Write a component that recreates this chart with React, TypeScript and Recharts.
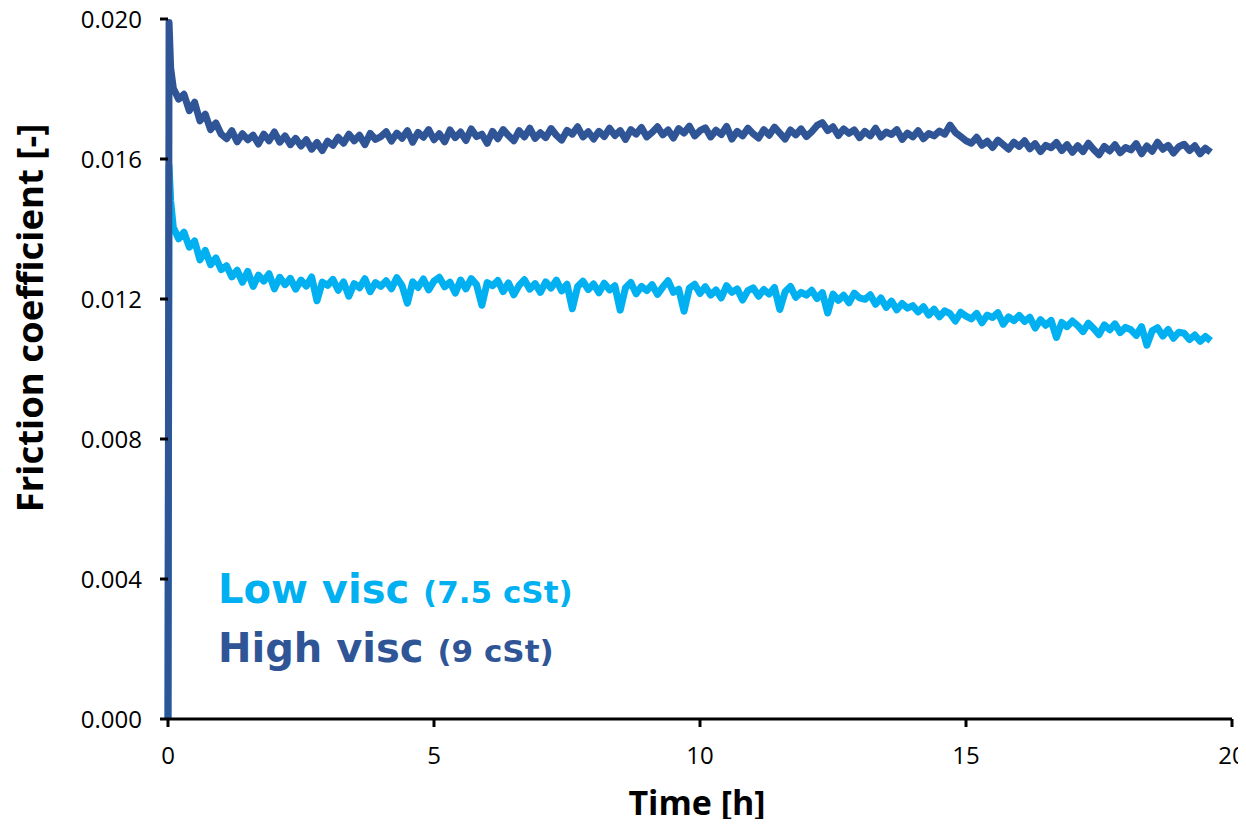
import { Label, Line, LineChart, XAxis, YAxis } from "recharts";

// first samples: start from zero, jump up, then the run-in drop
const leadTimes = [0, 0.02, 0.05];
const lowViscLead = [0, 0.0158, 0.0148];
const highViscLead = [0, 0.0199, 0.0186];

const sampleTimes = [
  0.1, 0.2, 0.3, 0.4, 0.5, 0.6, 0.7, 0.8, 0.9, 1,
  1.1, 1.2, 1.3, 1.4, 1.5, 1.6, 1.7, 1.8, 1.9, 2,
  2.1, 2.2, 2.3, 2.4, 2.5, 2.6, 2.7, 2.8, 2.9, 3,
  3.1, 3.2, 3.3, 3.4, 3.5, 3.6, 3.7, 3.8, 3.9, 4,
  4.1, 4.2, 4.3, 4.4, 4.5, 4.6, 4.7, 4.8, 4.9, 5,
  5.1, 5.2, 5.3, 5.4, 5.5, 5.6, 5.7, 5.8, 5.9, 6,
  6.1, 6.2, 6.3, 6.4, 6.5, 6.6, 6.7, 6.8, 6.9, 7,
  7.1, 7.2, 7.3, 7.4, 7.5, 7.6, 7.7, 7.8, 7.9, 8,
  8.1, 8.2, 8.3, 8.4, 8.5, 8.6, 8.7, 8.8, 8.9, 9,
  9.1, 9.2, 9.3, 9.4, 9.5, 9.6, 9.7, 9.8, 9.9, 10,
  10.1, 10.2, 10.3, 10.4, 10.5, 10.6, 10.7, 10.8, 10.9, 11,
  11.1, 11.2, 11.3, 11.4, 11.5, 11.6, 11.7, 11.8, 11.9, 12,
  12.1, 12.2, 12.3, 12.4, 12.5, 12.6, 12.7, 12.8, 12.9, 13,
  13.1, 13.2, 13.3, 13.4, 13.5, 13.6, 13.7, 13.8, 13.9, 14,
  14.1, 14.2, 14.3, 14.4, 14.5, 14.6, 14.7, 14.8, 14.9, 15,
  15.1, 15.2, 15.3, 15.4, 15.5, 15.6, 15.7, 15.8, 15.9, 16,
  16.1, 16.2, 16.3, 16.4, 16.5, 16.6, 16.7, 16.8, 16.9, 17,
  17.1, 17.2, 17.3, 17.4, 17.5, 17.6, 17.7, 17.8, 17.9, 18,
  18.1, 18.2, 18.3, 18.4, 18.5, 18.6, 18.7, 18.8, 18.9, 19,
  19.1, 19.2, 19.3, 19.4, 19.5, 19.6,
];

const lowVisc = [
  0.01405, 0.01372, 0.01391, 0.01348, 0.01366, 0.01312, 0.01339, 0.01298, 0.01317, 0.01284,
  0.01295, 0.01263, 0.01282, 0.01248, 0.01279, 0.01236, 0.01268, 0.01251, 0.01272, 0.01229,
  0.01262, 0.01241, 0.01259, 0.01228, 0.01254, 0.01237, 0.01263, 0.01195, 0.01248, 0.01239,
  0.01256, 0.01225, 0.01249, 0.01208, 0.01244, 0.01232, 0.01258, 0.01221, 0.01247, 0.01236,
  0.01252, 0.01229, 0.01261, 0.01238, 0.01188, 0.01249, 0.01233, 0.01257, 0.01226, 0.01251,
  0.01262, 0.01235, 0.01248, 0.01217, 0.01254, 0.01229, 0.01258, 0.01241, 0.01182, 0.01247,
  0.01238, 0.01253, 0.01221, 0.01246, 0.01212, 0.01239, 0.01255, 0.01228, 0.01244, 0.01219,
  0.01249, 0.01231, 0.01254, 0.01223, 0.01242, 0.01172, 0.01236, 0.01251, 0.01227, 0.01243,
  0.01218, 0.01245, 0.01226, 0.01238, 0.01168, 0.01232, 0.01247, 0.01215, 0.01236, 0.01224,
  0.01241, 0.01213, 0.01234, 0.01252, 0.01219, 0.01228, 0.01165, 0.01231, 0.01242, 0.01216,
  0.01235, 0.01211, 0.01226, 0.01203, 0.01238, 0.01219, 0.01229, 0.01197, 0.01224, 0.01232,
  0.01208, 0.01227, 0.01214, 0.01233, 0.0117, 0.01221, 0.01236, 0.01205, 0.01219, 0.01211,
  0.01225, 0.01201, 0.01218, 0.0116, 0.01214, 0.01196, 0.01211, 0.01189, 0.01217, 0.01203,
  0.01199, 0.01212, 0.01185, 0.01203, 0.01176, 0.01194, 0.01169, 0.01187, 0.01174, 0.01181,
  0.01163, 0.01178, 0.01154, 0.01171, 0.01149, 0.01166, 0.01158, 0.01137, 0.01162, 0.01151,
  0.01143, 0.01159, 0.01132, 0.01154, 0.01147, 0.01161, 0.01128, 0.01149, 0.01138, 0.01153,
  0.01136, 0.01148, 0.01117, 0.01141, 0.01125, 0.01139, 0.0109, 0.01133, 0.01121, 0.01137,
  0.01124, 0.01107, 0.01131, 0.01116, 0.01098, 0.01126, 0.01112, 0.01129, 0.01104, 0.01119,
  0.01112, 0.01096, 0.01121, 0.01068, 0.01109, 0.01118, 0.01094, 0.01113, 0.01088, 0.01105,
  0.01102, 0.01084, 0.01097, 0.01079, 0.01093, 0.01081,
];

const highVisc = [
  0.01802, 0.01771, 0.01785, 0.01738, 0.01762, 0.01709, 0.01728, 0.01684, 0.01703, 0.01671,
  0.01658, 0.01681, 0.01649, 0.01672, 0.01655, 0.01668, 0.01643, 0.01671, 0.01652, 0.01677,
  0.01648, 0.01666, 0.01641, 0.01659, 0.01637, 0.01655, 0.01628, 0.01647, 0.01624, 0.01651,
  0.01639, 0.01662, 0.01645, 0.01671, 0.01652, 0.01668, 0.01641, 0.01673, 0.01656, 0.01664,
  0.01678, 0.01651, 0.01674, 0.01659, 0.01681, 0.01648, 0.01676, 0.01662, 0.01684, 0.01655,
  0.01672, 0.01649, 0.01683, 0.01661, 0.01677, 0.01653, 0.01686, 0.01664, 0.01671, 0.01645,
  0.01679, 0.01658, 0.01684, 0.01667, 0.01652, 0.01681, 0.01663, 0.01688, 0.01659, 0.01675,
  0.01661, 0.01687, 0.01668, 0.01654, 0.01682, 0.01671, 0.01692, 0.01663, 0.01678, 0.01657,
  0.01679, 0.01664, 0.01688, 0.01667, 0.01681, 0.01656, 0.01684, 0.01671, 0.0169, 0.01663,
  0.01676, 0.01692, 0.01669, 0.01683, 0.0166, 0.01687, 0.01674, 0.01694, 0.01666, 0.01681,
  0.01689, 0.01663, 0.01682, 0.0167, 0.01693, 0.01657, 0.01679, 0.01666, 0.01688, 0.01672,
  0.0166, 0.01684, 0.01668, 0.01691, 0.01674, 0.01657, 0.01683, 0.01669, 0.01686, 0.01664,
  0.01678, 0.01696, 0.01704, 0.01681, 0.01692, 0.01667, 0.01686, 0.01673, 0.01683, 0.01661,
  0.01679, 0.01666, 0.01688, 0.01663, 0.01677, 0.0167, 0.01684, 0.01656, 0.01674, 0.01663,
  0.01681, 0.01658, 0.01673, 0.01666, 0.0168, 0.01671, 0.01697, 0.01676, 0.01664, 0.01652,
  0.01645, 0.01662, 0.01639, 0.01651, 0.01633, 0.01654, 0.01641, 0.01628, 0.01648, 0.01636,
  0.01652, 0.01629, 0.01644, 0.01621, 0.01639, 0.01632, 0.01647, 0.01624, 0.01641, 0.01619,
  0.01638, 0.01621, 0.01645, 0.01627, 0.01612, 0.01636, 0.01623, 0.01641, 0.01618, 0.01633,
  0.01626, 0.01644, 0.01615, 0.01637, 0.01622, 0.01648, 0.01628, 0.01639, 0.01617, 0.01635,
  0.01642, 0.01624, 0.01638, 0.01615, 0.01631, 0.01619,
];

const xTicks = [0, 5, 10, 15, 20];
const yTicks = [0, 0.004, 0.008, 0.012, 0.016, 0.02];

const times = [...leadTimes, ...sampleTimes];
const lowAll = [...lowViscLead, ...lowVisc];
const highAll = [...highViscLead, ...highVisc];
const data = times.map((time, i) => ({ time, low: lowAll[i], high: highAll[i] }));

const LIGHT = "#00B0F0";
const DARK = "#2F5597";
const tickFont = "'Open Sans', sans-serif";
const titleFont = "'Open Sans', sans-serif";
const noteFont = "'DejaVu Sans', sans-serif";

const W = 1246;
const H = 827;

export default function App() {
  // negative margin cancels the default body margin so the chart fills the window
  return (
    <div style={{ position: "relative", width: W, height: H, margin: -8 }}>
      <LineChart
        width={W}
        height={H}
        data={data}
        margin={{ top: 19, right: 14, bottom: 0, left: 68 }}
      >
        <XAxis
          dataKey="time"
          type="number"
          domain={[0, 20]}
          ticks={xTicks}
          height={108}
          tickSize={8}
          tickMargin={20}
          axisLine={{ stroke: "#000", strokeWidth: 3 }}
          tickLine={{ stroke: "#000", strokeWidth: 3 }}
          tick={{ fill: "#000", fontSize: 24, fontFamily: tickFont }}
        >
          <Label
            content={() => (
              <text
                x={697}
                y={815}
                textAnchor="middle"
                fontFamily={titleFont}
                fontWeight="bold"
                fontSize={34}
                fill="#000"
              >
                Time [h]
              </text>
            )}
          />
        </XAxis>
        <YAxis
          type="number"
          domain={[0, 0.02]}
          ticks={yTicks}
          width={100}
          tickSize={8}
          tickMargin={18}
          tickFormatter={(v: number) => v.toFixed(3)}
          axisLine={false}
          tickLine={{ stroke: "#000", strokeWidth: 3 }}
          tick={{ fill: "#000", fontSize: 24, fontFamily: tickFont }}
        >
          <Label
            content={() => (
              <text
                transform="translate(43,318) rotate(-90)"
                textAnchor="middle"
                fontFamily={titleFont}
                fontWeight="bold"
                fontSize={36.5}
                fill="#000"
              >
                Friction coefficient [-]
              </text>
            )}
          />
        </YAxis>
        <Line
          dataKey="low"
          stroke={LIGHT}
          strokeWidth={7}
          strokeLinejoin="round"
          dot={false}
          isAnimationActive={false}
        />
        <Line
          dataKey="high"
          stroke={DARK}
          strokeWidth={7}
          strokeLinejoin="round"
          dot={false}
          isAnimationActive={false}
        />
      </LineChart>
      <svg
        width={W}
        height={H}
        style={{ position: "absolute", left: 0, top: 0, pointerEvents: "none" }}
      >
        <text x={218} y={603} fill={LIGHT} fontFamily={noteFont} fontWeight="bold" fontSize={40}>
          Low visc <tspan fontSize={31}>(7.5 cSt)</tspan>
        </text>
        <text x={218} y={662} fill={DARK} fontFamily={noteFont} fontWeight="bold" fontSize={40}>
          High visc <tspan fontSize={31}>(9 cSt)</tspan>
        </text>
      </svg>
    </div>
  );
}
